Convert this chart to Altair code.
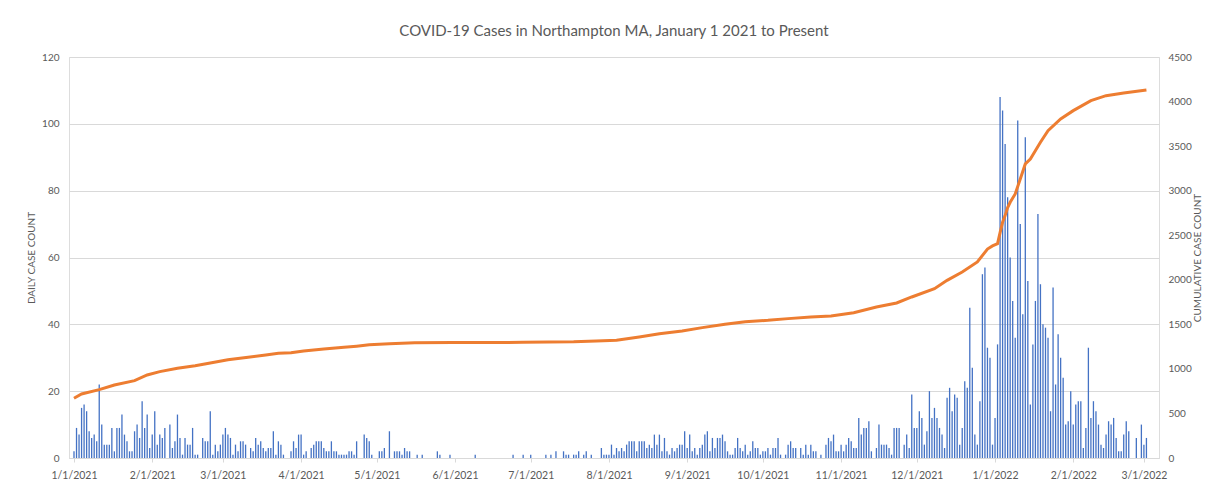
import altair as alt
import pandas as pd

# ---- daily case counts, one list per month ----
jan21 = [2, 9, 7, 15, 16, 14, 8, 6, 7, 5, 22, 10, 4, 4, 4, 9, 2, 9, 9, 13, 7, 5, 2, 2, 8, 10, 6, 17, 9, 13, 3]
feb21 = [7, 14, 4, 7, 6, 9, 0, 10, 3, 5, 13, 6, 1, 6, 4, 4, 9, 1, 1, 0, 6, 5, 5, 14, 1, 4, 2, 4]
mar21 = [7, 9, 7, 6, 1, 4, 2, 5, 5, 4, 0, 3, 2, 6, 4, 5, 3, 2, 3, 3, 8, 1, 5, 4, 1, 0, 0, 2, 5, 3, 7]
apr21 = [7, 1, 2, 0, 3, 4, 5, 5, 5, 3, 2, 2, 5, 2, 2, 1, 1, 1, 1, 2, 2, 1, 5, 0, 0, 7, 6, 5, 1, 0]
may21 = [0, 2, 2, 3, 0, 8, 0, 2, 2, 2, 1, 3, 2, 2, 0, 0, 1, 0, 1, 0, 0, 0, 0, 0, 2, 1, 0, 0, 0, 1, 0]
jun21 = [0, 0, 0, 0, 0, 0, 0, 0, 1, 0, 0, 0, 0, 0, 0, 0, 0, 0, 0, 0, 0, 0, 0, 1, 0, 0, 0, 1, 0, 0]
jul21 = [1, 0, 0, 0, 0, 0, 1, 0, 1, 0, 2, 0, 0, 2, 1, 1, 0, 1, 1, 2, 0, 1, 2, 0, 1, 0, 0, 0, 3, 1, 1]
aug21 = [1, 4, 1, 3, 2, 3, 2, 4, 5, 5, 5, 2, 5, 5, 5, 3, 4, 3, 7, 4, 7, 2, 6, 2, 1, 3, 2, 3, 4, 4, 8]
sep21 = [3, 7, 2, 3, 1, 3, 4, 7, 8, 2, 6, 3, 6, 6, 7, 5, 2, 1, 1, 3, 6, 3, 2, 4, 1, 2, 5, 3, 3, 1]
oct21 = [2, 2, 3, 1, 3, 3, 6, 1, 0, 1, 4, 5, 3, 3, 0, 3, 1, 4, 1, 4, 2, 2, 0, 1, 0, 4, 6, 5, 7, 2, 2]
nov21 = [4, 2, 4, 6, 5, 3, 3, 12, 7, 9, 9, 11, 2, 0, 3, 10, 4, 4, 4, 3, 1, 9, 9, 9, 0, 4, 7, 3, 19, 9]
dec21 = [9, 14, 12, 4, 8, 20, 12, 15, 12, 9, 7, 3, 18, 21, 14, 19, 18, 4, 9, 23, 21, 45, 27, 7, 4, 17, 55, 57, 33, 30, 4]
jan22 = [12, 34, 108, 104, 94, 78, 60, 47, 36, 101, 70, 43, 96, 53, 16, 34, 47, 73, 52, 40, 39, 36, 14, 51, 22, 37, 30, 24, 10, 11, 20]
feb22 = [10, 16, 17, 17, 3, 9, 33, 12, 17, 14, 10, 4, 3, 7, 11, 10, 12, 6, 2, 2, 7, 11, 8, 0, 0, 6, 0, 10]
mar22 = [4, 6]

# ---- cumulative case count ----
cum_dates = [
    "2021-01-01", "2021-01-04", "2021-01-11", "2021-01-17", "2021-01-25", "2021-01-30",
    "2021-02-04", "2021-02-11", "2021-02-18", "2021-02-24", "2021-03-03", "2021-03-11",
    "2021-03-18", "2021-03-23", "2021-03-28", "2021-04-02", "2021-04-10", "2021-04-18",
    "2021-04-23", "2021-04-28", "2021-05-06", "2021-05-16", "2021-05-31", "2021-06-22",
    "2021-06-28", "2021-07-18", "2021-07-27", "2021-08-04", "2021-08-13", "2021-08-21",
    "2021-08-30", "2021-09-07", "2021-09-16", "2021-09-24", "2021-10-03", "2021-10-11",
    "2021-10-20", "2021-10-28", "2021-11-06", "2021-11-15", "2021-11-23", "2021-11-29",
    "2021-12-08", "2021-12-13", "2021-12-19", "2021-12-25", "2021-12-29", "2021-12-31",
    "2022-01-02", "2022-01-03", "2022-01-04", "2022-01-05", "2022-01-06", "2022-01-07",
    "2022-01-09", "2022-01-11", "2022-01-13", "2022-01-15", "2022-01-19", "2022-01-22",
    "2022-01-27", "2022-02-01", "2022-02-08", "2022-02-14", "2022-02-21", "2022-03-02",
]
cum_values = [
    670, 718, 767, 819, 868, 932,
    969, 1007, 1036, 1066, 1103, 1130,
    1156, 1175, 1180, 1201, 1223, 1242,
    1255, 1270, 1283, 1292, 1295, 1296,
    1300, 1304, 1312, 1321, 1358, 1395,
    1425, 1463, 1500, 1530, 1545, 1564,
    1582, 1594, 1631, 1695, 1740, 1807,
    1900, 1994, 2087, 2200, 2345, 2380,
    2405, 2530, 2645, 2720, 2810, 2870,
    2963, 3131, 3300, 3356, 3543, 3674,
    3805, 3898, 4010, 4066, 4096, 4130,
]

left_ticks = [0, 20, 40, 60, 80, 100, 120]
right_ticks = [0, 500, 1000, 1500, 2000, 2500, 3000, 3500, 4000, 4500]
tick_months = [(2021, m) for m in range(1, 13)] + [(2022, 1), (2022, 2), (2022, 3)]

title_text = "COVID-19 Cases in Northampton MA, January 1 2021 to Present"
left_title = "DAILY CASE COUNT"
right_title = "CUMULATIVE CASE COUNT"

# ---- tables ----
daily = (jan21 + feb21 + mar21 + apr21 + may21 + jun21 + jul21 + aug21 + sep21
         + oct21 + nov21 + dec21 + jan22 + feb22 + mar22)
dates = pd.date_range("2021-01-01", periods=len(daily), freq="D").strftime("%Y-%m-%dT00:00:00")
bars_df = pd.DataFrame({"date": list(dates), "daily": daily})
cum_df = pd.DataFrame({"date": [d + "T00:00:00" for d in cum_dates], "cum": cum_values})

FONT = "Lato"
GRAY = "#595959"
GRID = "#d9d9d9"

x_enc = alt.X(
    "date:T",
    scale=alt.Scale(domain=[alt.DateTime(year=2021, month=1, date=1),
                            alt.DateTime(year=2022, month=3, date=5)]),
    axis=alt.Axis(
        values=[alt.DateTime(year=y, month=m, date=1) for y, m in tick_months],
        format="%-m/%-d/%Y", title=None, grid=False,
        domainColor=GRID, tickColor=GRID, tickSize=4,
        labelPadding=8, labelFlush=False, labelOverlap=False,
        labelFont=FONT, labelFontSize=10.5, labelColor=GRAY,
    ),
)

bars = alt.Chart(bars_df).mark_bar(size=1.3, color="#4472C4").encode(
    x=x_enc,
    y=alt.Y(
        "daily:Q",
        scale=alt.Scale(domain=[0, 120], nice=False),
        axis=alt.Axis(
            values=left_ticks, title=left_title, orient="left",
            grid=True, gridColor=GRID, gridWidth=1,
            domain=False, ticks=False, tickSize=0, labelPadding=10,
            labelFont=FONT, labelFontSize=10, labelColor=GRAY,
            titleFont=FONT, titleFontSize=10, titleFontWeight="normal",
            titleColor=GRAY, titlePadding=5,
        ),
    ),
)

line = alt.Chart(cum_df).mark_line(color="#ED7D31", strokeWidth=3).encode(
    x=alt.X("date:T"),
    y=alt.Y(
        "cum:Q",
        scale=alt.Scale(domain=[0, 4500], nice=False),
        axis=alt.Axis(
            values=right_ticks, format="d", title=right_title, orient="right",
            grid=False, domain=False, ticks=False, tickSize=0, labelPadding=9,
            labelFont=FONT, labelFontSize=10, labelColor=GRAY,
            titleFont=FONT, titleFontSize=10, titleFontWeight="normal",
            titleColor=GRAY, titlePadding=1, titleAngle=270, titleBaseline="top",
        ),
    ),
)

chart = (
    alt.layer(bars, line)
    .resolve_scale(y="independent")
    .properties(
        width=1090,
        height=401,
        autosize=alt.AutoSizeParams(type="none"),
        padding={"left": 61, "top": 49, "right": 45, "bottom": 24},
        title=alt.TitleParams(
            text=title_text, font=FONT, fontSize=15, fontWeight="normal",
            color=GRAY, anchor="middle", offset=13,
        ),
    )
    .configure_view(stroke=None)
    .configure(background="white")
)

chart.save("out.html", embed_options={"renderer": "svg", "actions": False})
